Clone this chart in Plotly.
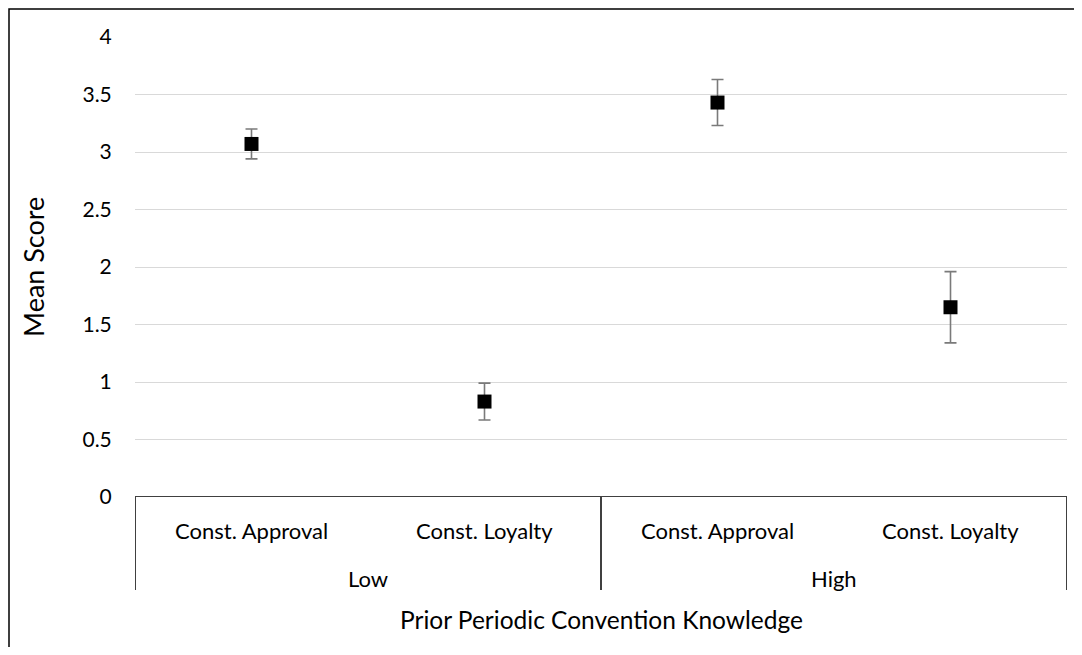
import plotly.graph_objects as go

groups = ["Low", "Low", "High", "High"]
categories = ["Const. Approval", "Const. Loyalty", "Const. Approval", "Const. Loyalty"]
means = [3.07, 0.83, 3.43, 1.65]
err_plus = [0.13, 0.16, 0.20, 0.31]
err_minus = [0.13, 0.16, 0.20, 0.31]
yticks = [0, 0.5, 1, 1.5, 2, 2.5, 3, 3.5, 4]
ytick_text = ["0", "0.5", "1", "1.5", "2", "2.5", "3", "3.5", "4"]
group_names = ["Low", "High"]
x_title = "Prior Periodic Convention Knowledge"
y_title = "Mean Score"

FONT = "Lato"
xpos = [i + 0.5 for i in range(len(categories))]

fig = go.Figure()
fig.add_trace(go.Scatter(
    x=xpos, y=means, mode="markers",
    marker=dict(symbol="square", size=14, color="black"),
    error_y=dict(type="data", array=err_plus, arrayminus=err_minus,
                 color="#7a7a7a", thickness=1.6, width=6),
    showlegend=False,
))

# page has an 8px body margin; work in screen pixels and convert
OFF = 8
W, H = 1066, 639
L, R, T, B = 135 - OFF, 1066 - (1067 - OFF), 37 - OFF, 639 - (497 - OFF)
pw, ph = W - L - R, H - T - B

def py(Y):  # screen y -> paper
    return (H - B - (Y - OFF)) / ph

def pxx(X):  # screen x -> paper
    return ((X - OFF) - L) / pw

annotations = []
for xp, c in zip(xpos, categories):
    annotations.append(dict(x=xp, y=py(530), xref="x", yref="paper", text=c,
                            xanchor="center", yanchor="middle",
                            showarrow=False, font=dict(family=FONT, size=22, color="black")))
for gi, g in enumerate(group_names):
    annotations.append(dict(x=gi * 2 + 1, y=py(578), xref="x", yref="paper", text=g,
                            xanchor="center", yanchor="middle",
                            showarrow=False, font=dict(family=FONT, size=22, color="black")))
annotations.append(dict(x=2, y=py(619), xref="x", yref="paper", text=x_title,
                        xanchor="center", yanchor="middle",
                        showarrow=False, font=dict(family=FONT, size=24.5, color="black")))
annotations.append(dict(x=pxx(33), y=py(267), xref="paper", yref="paper", text=y_title,
                        xanchor="center", yanchor="middle",
                        textangle=-90, showarrow=False,
                        font=dict(family=FONT, size=27, color="black")))

shapes = []
shapes.append(dict(type="line", xref="x", yref="y", x0=0, x1=len(categories), y0=0, y1=0,
                   line=dict(color="black", width=1.5)))
for xv in [0, 2, 4]:
    shapes.append(dict(type="line", xref="x", yref="paper", x0=xv, x1=xv,
                       y0=0, y1=py(590), line=dict(color="black", width=1.5)))
shapes.append(dict(type="rect", xref="paper", yref="paper",
                   x0=pxx(9), x1=pxx(1100), y0=py(680), y1=py(9),
                   line=dict(color="black", width=1.5)))

fig.update_layout(
    width=W, height=H,
    margin=dict(l=L, r=R, t=T, b=B, autoexpand=False),
    paper_bgcolor="white", plot_bgcolor="white",
    xaxis=dict(range=[0, 4], showgrid=False, showticklabels=False, zeroline=False,
               showline=False, fixedrange=True),
    yaxis=dict(range=[0, 4], tickvals=yticks, ticktext=ytick_text,
               showgrid=True, gridcolor="#d9d9d9", gridwidth=1.3,
               zeroline=False, showline=False,
               ticks="outside", ticklen=18, tickcolor="rgba(0,0,0,0)",
               tickfont=dict(family=FONT, size=21, color="black")),
    annotations=annotations,
    shapes=shapes,
)

fig.write_html("out.html")
